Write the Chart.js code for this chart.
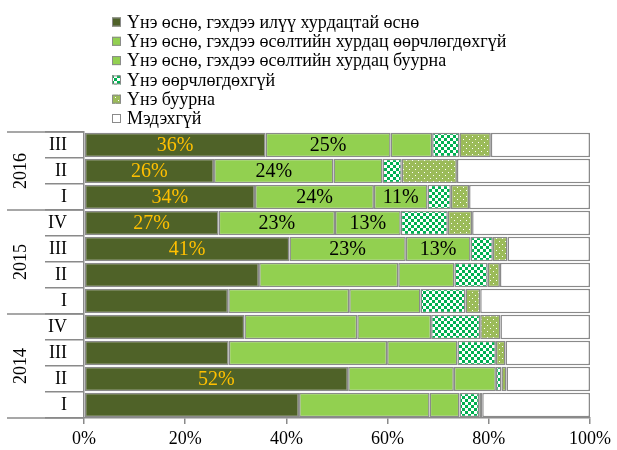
<!DOCTYPE html>
<html>
<head>
<meta charset="utf-8">
<script src="https://cdn.jsdelivr.net/npm/chart.js@4/dist/chart.umd.min.js"></script>
<style>
  html, body { margin: 0; padding: 0; background: #fff; }
</style>
</head>
<body>
<canvas id="myChart" width="617" height="450"></canvas>
<script>
// categories, top to bottom
var quarters = ['III', 'II', 'I', 'IV', 'III', 'II', 'I', 'IV', 'III', 'II', 'I'];
var years = ['2016', '2015', '2014'];
var yearSizes = [3, 4, 4];

var seriesNames = [
  'Үнэ өснө, гэхдээ илүү хурдацтай өснө',
  'Үнэ өснө, гэхдээ өсөлтийн хурдац өөрчлөгдөхгүй',
  'Үнэ өснө, гэхдээ өсөлтийн хурдац буурна',
  'Үнэ өөрчлөгдөхгүй',
  'Үнэ буурна',
  'Мэдэхгүй'
];

// shares in percent
var fasterGrowth = [35.9, 25.7, 33.8, 26.6, 40.6, 34.6, 28.5, 31.7, 28.6, 52.2, 42.5];
var sameGrowth   = [24.7, 23.6, 23.5, 23.0, 23.0, 27.5, 23.9, 22.3, 31.3, 20.9, 25.8];
var slowerGrowth = [8.2, 9.7, 10.6, 13.0, 12.8, 11.1, 14.1, 14.6, 13.9, 8.3, 5.9];
var noChange     = [5.4, 3.8, 4.6, 9.3, 4.4, 6.6, 8.9, 9.7, 7.6, 1.1, 3.9];
var priceFall    = [6.2, 10.9, 3.6, 4.8, 2.9, 2.4, 2.9, 4.0, 1.9, 1.0, 0.6];
var dontKnow     = [19.6, 26.3, 23.9, 23.3, 16.3, 17.8, 21.7, 17.7, 16.7, 16.5, 21.3];

// which rows get a value label, per series
var labelRows = [[0, 1, 2, 3, 4, 9], [0, 1, 2, 3, 4], [2, 3, 4], [], [], []];

var xTicks = [0, 20, 40, 60, 80, 100];

var FONT = "'Liberation Serif', 'Times New Roman', serif";
var GREY = '#8a8a8a';

function makePattern(kind) {
  var c = document.createElement('canvas');
  var g = c.getContext('2d');
  if (kind === 'checker') {
    c.width = 6; c.height = 6;
    g.fillStyle = '#ffffff'; g.fillRect(0, 0, 6, 6);
    g.fillStyle = '#00b050';
    g.fillRect(0, 0, 3, 3);
    g.fillRect(3, 3, 3, 3);
  } else {
    c.width = 6; c.height = 6;
    g.fillStyle = '#9bbb59'; g.fillRect(0, 0, 6, 6);
    g.fillStyle = '#ffffff';
    g.fillRect(1, 1, 1, 1);
    g.fillRect(4, 4, 1, 1);
  }
  return g.createPattern(c, 'repeat');
}

var fills = ['#4f6228', '#92d050', '#92d050', makePattern('checker'), makePattern('dots'), '#ffffff'];
var values = [fasterGrowth, sameGrowth, slowerGrowth, noChange, priceFall, dontKnow];

var datasets = seriesNames.map(function (name, i) {
  return {
    label: name,
    data: values[i],
    backgroundColor: fills[i],
    borderColor: GREY,
    borderWidth: 1.5,
    borderSkipped: false,
    barPercentage: 0.94,
    categoryPercentage: 1
  };
});

// legend drawn as a plain list, one series per line
var listLegend = {
  id: 'listLegend',
  afterDraw: function (chart) {
    var ctx = chart.ctx;
    ctx.save();
    ctx.font = '18px ' + FONT;
    ctx.textBaseline = 'middle';
    ctx.textAlign = 'left';
    chart.data.datasets.forEach(function (ds, i) {
      var y = 22 + i * 19.3;
      ctx.fillStyle = ds.backgroundColor;
      ctx.fillRect(112, y - 4.5, 9, 9);
      ctx.strokeStyle = GREY;
      ctx.lineWidth = 1;
      ctx.strokeRect(112.5, y - 4, 8, 8);
      ctx.fillStyle = '#000';
      ctx.fillText(ds.label, 127, y + 1);
    });
    ctx.restore();
  }
};

// year groups on the category axis
var yearGroups = {
  id: 'yearGroups',
  afterDraw: function (chart) {
    var ctx = chart.ctx;
    var y = chart.scales.y;
    var left = chart.chartArea.left;
    var step = (y.bottom - y.top) / quarters.length;
    ctx.save();
    ctx.strokeStyle = GREY;
    ctx.lineWidth = 1.5;
    var start = 0;
    var edges = [0];
    yearSizes.forEach(function (n) { start += n; edges.push(start); });
    edges.forEach(function (e) {
      var py = y.top + e * step;
      ctx.beginPath();
      ctx.moveTo(7, py);
      ctx.lineTo(left, py);
      ctx.stroke();
    });
    ctx.fillStyle = '#000';
    ctx.font = '18px ' + FONT;
    ctx.textAlign = 'center';
    ctx.textBaseline = 'middle';
    years.forEach(function (yr, i) {
      var mid = y.top + (edges[i] + edges[i + 1]) / 2 * step;
      ctx.save();
      ctx.translate(21, mid);
      ctx.rotate(-Math.PI / 2);
      ctx.fillText(yr, 0, 0);
      ctx.restore();
    });
    ctx.restore();
  }
};

// value labels inside the bars
var barLabels = {
  id: 'barLabels',
  afterDatasetsDraw: function (chart) {
    var ctx = chart.ctx;
    ctx.save();
    ctx.font = '20px ' + FONT;
    ctx.textAlign = 'center';
    ctx.textBaseline = 'middle';
    labelRows.forEach(function (rows, i) {
      var meta = chart.getDatasetMeta(i);
      ctx.fillStyle = i === 0 ? '#ffc000' : '#000000';
      rows.forEach(function (r) {
        var el = meta.data[r];
        var v = chart.data.datasets[i].data[r];
        ctx.fillText(Math.round(v) + '%', (el.x + el.base) / 2, el.y + 1);
      });
    });
    ctx.restore();
  }
};

var ctx = document.getElementById('myChart').getContext('2d');
var myChart = new Chart(ctx, {
  type: 'bar',
  data: { labels: quarters, datasets: datasets },
  options: {
    indexAxis: 'y',
    responsive: false,
    animation: false,
    layout: { padding: { top: 132, right: 27, left: 0, bottom: 0 } },
    plugins: {
      legend: { display: false },
      tooltip: { enabled: false }
    },
    scales: {
      x: {
        stacked: true,
        min: 0,
        max: 100,
        afterFit: function (s) { s.height = 32; },
        afterBuildTicks: function (s) {
          s.ticks = xTicks.map(function (v) { return { value: v }; });
        },
        ticks: {
          color: '#000',
          font: { family: FONT, size: 18 },
          padding: 4,
          callback: function (v) { return v + '%'; }
        },
        grid: { drawOnChartArea: false, color: GREY, lineWidth: 1.5, tickLength: 6 },
        border: { color: GREY, width: 1.5 }
      },
      y: {
        stacked: true,
        afterFit: function (s) { s.width = 84; },
        ticks: {
          color: '#000',
          font: { family: FONT, size: 18 },
          padding: -22
        },
        grid: { offset: true, drawOnChartArea: false, color: GREY, lineWidth: 1.5, tickLength: 39 },
        border: { color: GREY, width: 1.5 }
      }
    }
  },
  plugins: [listLegend, yearGroups, barLabels]
});
</script>
</body>
</html>
